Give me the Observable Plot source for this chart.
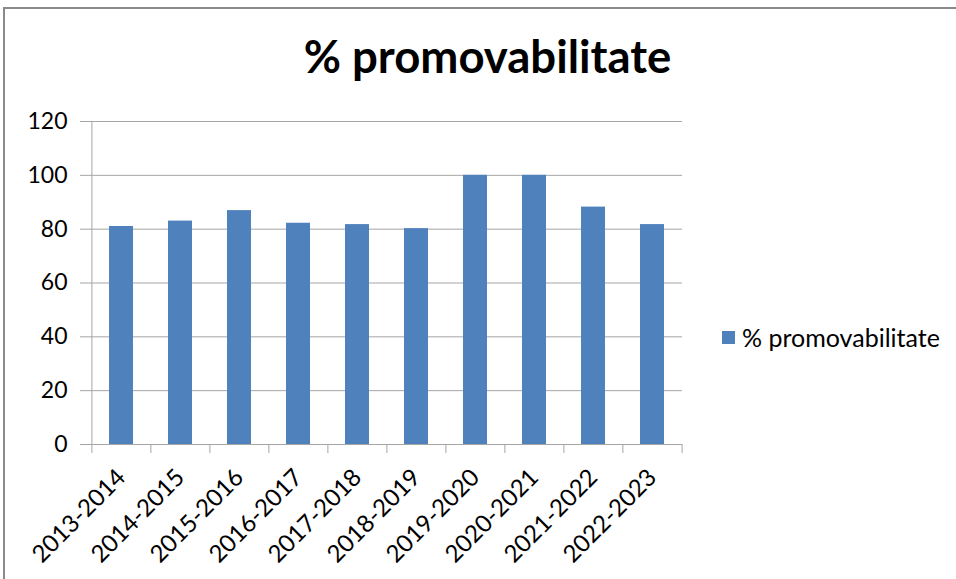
<!DOCTYPE html>
<html>
<head>
<meta charset="utf-8">
<script src="https://cdn.jsdelivr.net/npm/d3@7"></script>
<script src="https://cdn.jsdelivr.net/npm/@observablehq/plot@0.6"></script>
<style>
  html, body { margin: 0; padding: 0; background: #fff; }
  #wrap { position: relative; width: 956px; height: 579px; overflow: hidden; font-family: Lato, "DejaVu Sans", sans-serif; }
  #frame { position: absolute; left: 3px; top: 7px; width: 1000px; height: 700px; border: 2px solid #8a8a8a; box-sizing: border-box; }
  #title { position: absolute; left: 0; width: 975px; top: 29px; text-align: center; font-weight: 700; font-size: 45.5px; line-height: 1.2; color: #000; }
  #chart { position: absolute; left: 0; top: 0; }
  #legend { position: absolute; left: 722px; top: 322px; display: flex; align-items: center; font-size: 25px; color: #000; }
  #legend .sw { width: 13px; height: 13px; background: #4f81bd; margin-right: 7px; }
</style>
</head>
<body>
<div id="wrap">
  <div id="frame"></div>
  <div id="title"></div>
  <div id="chart"></div>
  <div id="legend"><div class="sw"></div><span id="legtext"></span></div>
</div>
<script>
const categories = ["2013-2014", "2014-2015", "2015-2016", "2016-2017", "2017-2018", "2018-2019", "2019-2020", "2020-2021", "2021-2022", "2022-2023"];
const values = [81, 83, 86.9, 82.2, 81.7, 80.2, 100, 100, 88.2, 81.7];
const yTicks = [0, 20, 40, 60, 80, 100, 120];
const seriesName = "% promovabilitate";
const titleText = "% promovabilitate";

const data = categories.map((c, i) => ({year: c, value: values[i]}));

document.getElementById("title").textContent = titleText;
document.getElementById("legtext").textContent = seriesName;

const W = 700, H = 579;
const mL = 90, mR = 18;
const step = (W - mL - mR) / categories.length;
const grid = "#a5a5a5";

const plot = Plot.plot({
  width: W,
  height: H,
  marginLeft: mL,
  marginRight: mR,
  marginTop: 121,
  marginBottom: 135,
  style: {fontFamily: "Lato, sans-serif", fontSize: "23px", color: "#000", background: "transparent", overflow: "visible"},
  x: {domain: categories, paddingInner: 0.6, paddingOuter: 0.3, label: null},
  y: {domain: [0, 120], ticks: yTicks, label: null},
  marks: [
    Plot.gridY(yTicks, {stroke: grid, strokeOpacity: 1, strokeWidth: 1}),
    Plot.barY(data, {x: "year", y: "value", fill: "#4f81bd"}),
    Plot.ruleY([0], {stroke: grid, strokeWidth: 1}),
    Plot.ruleX([categories[0]], {dx: -step / 2, stroke: grid, strokeWidth: 1}),
    Plot.axisY(yTicks, {tickSize: 10, tickPadding: 13, stroke: grid, fill: "#000", fontSize: 23, label: null}),
    Plot.axisX({tickSize: 9, dx: -step / 2, stroke: grid, tickFormat: () => "", label: null}),
    Plot.axisX([categories[categories.length - 1]], {tickSize: 9, dx: step / 2, stroke: grid, tickFormat: () => "", label: null}),
    Plot.axisX({tickSize: 0, tickPadding: 29, tickRotate: -45, fill: "#000", fontSize: 24, label: null})
  ]
});
document.getElementById("chart").appendChild(plot);
</script>
</body>
</html>
